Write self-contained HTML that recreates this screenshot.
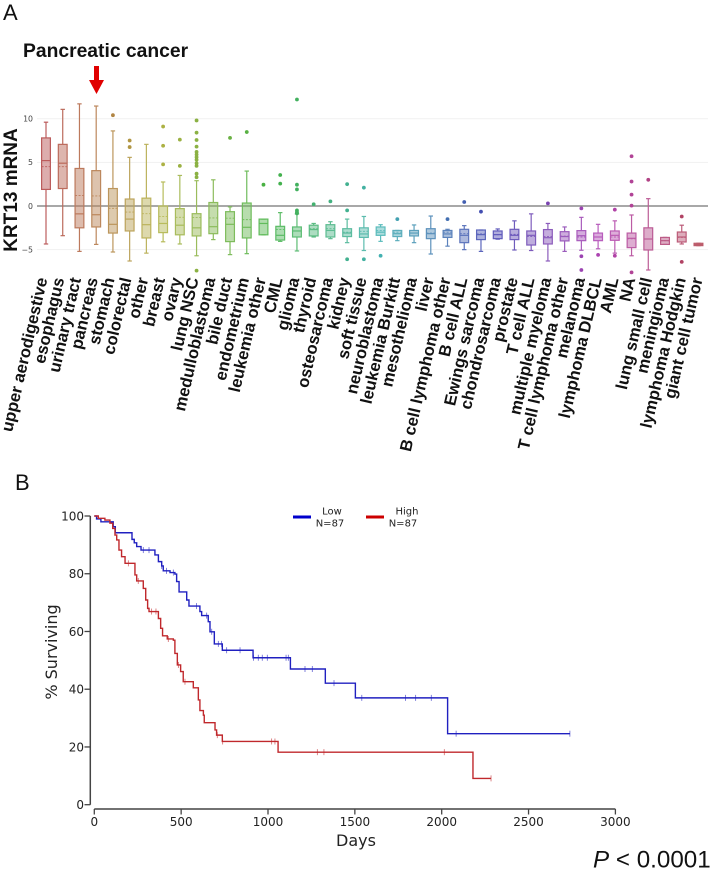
<!DOCTYPE html>
<html lang="en">
<head>
<meta charset="utf-8">
<title>KRT13 mRNA expression and survival</title>
<style>
html,body{margin:0;padding:0;background:#fff;width:711px;height:870px;overflow:hidden}
svg{display:block;filter:blur(0.3px)}
text{font-family:"Liberation Sans",sans-serif}
.dj{font-family:"DejaVu Sans",sans-serif}
</style>
</head>
<body>
<svg id="fig" xmlns="http://www.w3.org/2000/svg" width="711" height="870" viewBox="0 0 711 870">
  <text x="3" y="20" font-size="22" fill="#111">A</text>
  <text x="15" y="490" font-size="22" fill="#111">B</text>
  <text x="23" y="57" font-size="19.3" font-weight="bold" fill="#111">Pancreatic cancer</text>
  <polygon points="94,66 99,66 99,80 104,80 96.5,94 89,80 94,80" fill="#e00000"/>
  <text transform="translate(17,190) rotate(-90)" text-anchor="middle" font-size="19" font-weight="bold" fill="#111">KRT13 mRNA</text>
  <g id="boxGrid"></g>
  <g id="boxTicks"></g>
  <g id="boxes"></g>
  <g id="boxLabels"></g>

  <g id="kmAxes"></g>
  <text class="dj" transform="translate(57,652) rotate(-90)" text-anchor="middle" font-size="16" fill="#222">% Surviving</text>
  <text class="dj" x="356" y="846" text-anchor="middle" font-size="16" fill="#222">Days</text>
  <g id="kmLines"></g>

  <g>
    <line x1="293" x2="311" y1="517" y2="517" stroke="#0000cc" stroke-width="3"/>
    <text class="dj" x="332" y="514.5" text-anchor="middle" font-size="10" fill="#222">Low</text>
    <text class="dj" x="330" y="526.5" text-anchor="middle" font-size="10" fill="#222">N=87</text>
  </g>
  <g>
    <line x1="366" x2="384" y1="517" y2="517" stroke="#cc0000" stroke-width="3"/>
    <text class="dj" x="407" y="514.5" text-anchor="middle" font-size="10" fill="#222">High</text>
    <text class="dj" x="403" y="526.5" text-anchor="middle" font-size="10" fill="#222">N=87</text>
  </g>
  <text x="593" y="867.5" font-size="24.2" fill="#111"><tspan font-style="italic">P</tspan> &lt; 0.0001</text>
</svg>
<script>
const categories = ["upper aerodigestive","esophagus","urinary tract","pancreas","stomach","colorectal","other","breast","ovary","lung NSC","medulloblastoma","bile duct","endometrium","leukemia other","CML","glioma","thyroid","osteosarcoma","kidney","soft tissue","neuroblastoma","leukemia Burkitt","mesothelioma","liver","B cell lymphoma other","B cell ALL","Ewings sarcoma","chondrosarcoma","prostate","T cell ALL","multiple myeloma","T cell lymphoma other","melanoma","lymphoma DLBCL","AML","NA","lung small cell","meningioma","lymphoma Hodgkin","giant cell tumor"];
const whiskerHigh = [9.6,11.07,11.7,11.45,8.6,5.57,7.06,2.75,3.5,2.9,3.0,-0.1,4.0,-1.5,-0.76,-0.9,-2.0,-1.8,-1.5,-1.2,-2.14,-2.8,-2.17,-1.15,-2.67,-2.25,-2.75,-2.63,-1.7,-0.9,-2.0,-2.4,-1.3,-2.1,-1.7,-1.03,0.84,-3.6,-2.2,-4.27];
const q3Values = [7.8,7.06,4.3,4.05,2.0,0.8,0.9,0,-0.3,-0.88,0.4,-0.65,0.34,-1.5,-2.33,-2.4,-2.2,-2.14,-2.6,-2.5,-2.4,-2.8,-2.8,-2.6,-2.8,-2.67,-2.75,-2.86,-2.67,-2.86,-2.7,-2.94,-2.82,-3.1,-2.86,-3.1,-2.5,-3.6,-2.98,-4.27];
const medianValues = [5.2,4.9,-0.9,-1.0,-2.1,-1.5,-2.14,-2.0,-2.2,-2.5,-2.37,-2.1,-2.44,-2.0,-3.36,-2.86,-2.7,-2.8,-3.1,-3.2,-3.0,-3.17,-3.1,-3.17,-3.2,-3.36,-3.28,-3.28,-3.36,-3.36,-3.63,-3.5,-3.4,-3.55,-3.36,-3.7,-3.78,-3.97,-3.55,-4.4];
const meanValues = [4.5,4.5,1.2,1.15,-0.27,-0.7,-0.88,-1.2,-1.3,-1.33,-1.37,-1.4,-1.56,-2.0,-2.7,-2.86,-2.6,-2.6,-3.0,-2.9,-2.8,-3.0,-3.1,-3.1,-3.0,-3.17,-3.2,-3.28,-3.25,-3.5,-3.5,-3.45,-3.55,-3.55,-3.55,-3.75,-3.78,-3.97,-3.6,-4.4];
const q1Values = [1.9,2.0,-2.5,-2.4,-3.1,-2.86,-3.66,-3.05,-3.3,-3.43,-3.17,-4.08,-3.66,-3.3,-3.9,-3.55,-3.43,-3.55,-3.5,-3.6,-3.36,-3.5,-3.43,-3.74,-3.6,-4.2,-3.85,-3.74,-3.85,-4.47,-4.35,-4.0,-3.97,-3.97,-3.93,-4.77,-5.04,-4.4,-4.12,-4.54];
const whiskerLow = [-4.35,-3.4,-5.2,-4.4,-5.27,-6.3,-5.4,-4.1,-4.35,-5.7,-3.85,-5.57,-5.46,-3.3,-4.05,-5.15,-3.55,-3.74,-4.2,-5.1,-4.05,-3.97,-4.2,-5.5,-4.6,-5.0,-5.2,-3.8,-5.04,-5.1,-6.3,-5.2,-5.07,-4.9,-5.4,-5.7,-7.33,-4.4,-4.35,-4.54];
const outlierValues = [[],[],[],[],[10.4],[7.5,6.75],[],[9.1,6.9,4.77],[7.6,4.6],[9.8,8.4,7.56,6.8,6.2,5.9,5.6,5.3,4.9,4.6,3.7,3.3,-7.4],[],[7.8],[8.47],[2.44],[3.55,2.56],[12.2,2.44,1.9,-0.5,-0.7,-0.85],[0.2],[0.53],[2.5,-0.5,-6.1],[2.1,-6.1],[-5.7],[-1.5],[],[],[-1.5],[0.46],[-0.65],[],[],[],[0.3],[],[-0.27,-5.76,-7.33],[-5.6],[-0.42,-5.7],[5.7,2.8,1.3,0.04,-7.6],[3.0],[],[-1.2,-6.4],[]];
const boxTickValues = [10,5,0,-5];

const lowDays = [0,13,38,109,121,217,230,244,269,349,369,388,397,436,464,474,488,532,545,608,618,656,666,691,737,914,1129,1330,1503,2034,2738];
const lowSurvival = [100,99,98,96.3,94.2,91.9,90.7,89.4,88.2,86.5,84.2,82.7,81,80.4,79.9,77.3,73.7,70.9,68.8,66.9,65.5,63.4,59.9,55.7,53.5,50.9,47,42.1,37,24.6,24.6];
const lowCensorDays = [282,315,388,416,455,589,647,676,714,733,762,839,916,944,967,996,1104,1117,1213,1255,1380,1540,1792,1850,1940,2083,2738];
const highDays = [0,23,61,90,106,119,129,142,157,177,234,244,282,296,307,315,369,382,393,420,455,464,478,497,512,570,599,608,628,633,695,704,737,1058,2180,2284];
const highSurvival = [100,99.2,98.6,97.5,95.7,93.4,91.7,88.2,85.9,83.6,79.6,77.5,74.9,70.9,68,66.9,64.5,61.1,58.5,57.4,57,52.4,48.4,46.1,42.6,40.5,36.3,32.6,31,28.4,25.9,24.1,21.9,18.2,9.1,9.1];
const highCensorDays = [196,253,330,355,426,484,522,708,739,1021,1040,1284,1322,2015,2284];
const dayTicks = [0,500,1000,1500,2000,2500,3000];
const survivalTicks = [0,20,40,60,80,100];

const NS = "http://www.w3.org/2000/svg";
function add(parent, tag, attrs) {
  const el = document.createElementNS(NS, tag);
  for (const k in attrs) el.setAttribute(k, attrs[k]);
  parent.appendChild(el);
  return el;
}
const boxX = i => 46 + i * 16.73;
const boxY = v => 206 - v * 8.73;
const kmX = d => 94.3 + d * 0.1737;
const kmY = s => 804.7 - s * 2.887;

const gridG = document.getElementById("boxGrid");
const tickG = document.getElementById("boxTicks");
boxTickValues.forEach(v => {
  const ln = add(gridG, "line", {x1: 37, x2: 708, y1: boxY(v), y2: boxY(v), stroke: v === 0 ? "#8c8c8c" : "#f1f1f1", "stroke-width": v === 0 ? 1.4 : 1});
  
  
  const t = add(tickG, "text", {x: 33, y: boxY(v) + 2.8, "text-anchor": "end", "font-size": 7.8, fill: "#444", class: "dj"});
  t.textContent = v < 0 ? "\u2212" + (-v) : String(v);
  
  
});

const boxesG = document.getElementById("boxes");
const labelG = document.getElementById("boxLabels");
categories.forEach((name, i) => {
  const hue = i * 360 / categories.length;
  const color = "hsl(" + hue + ",42%,55%)";
  const dotColor = "hsl(" + hue + ",45%,48%)";
  const x = boxX(i), hw = 4.4, cap = 2.2;
  const g = add(boxesG, "g", {});
  
  
  const s = {stroke: color, "stroke-width": 1.2, fill: "none"};
  add(g, "line", Object.assign({x1: x, x2: x, y1: boxY(whiskerHigh[i]), y2: boxY(q3Values[i])}, s));
  add(g, "line", Object.assign({x1: x, x2: x, y1: boxY(q1Values[i]), y2: boxY(whiskerLow[i])}, s));
  add(g, "line", Object.assign({x1: x - cap, x2: x + cap, y1: boxY(whiskerHigh[i]), y2: boxY(whiskerHigh[i])}, s));
  add(g, "line", Object.assign({x1: x - cap, x2: x + cap, y1: boxY(whiskerLow[i]), y2: boxY(whiskerLow[i])}, s));
  add(g, "rect", {x: x - hw, width: 2 * hw, y: boxY(q3Values[i]), height: Math.max(0.5, boxY(q1Values[i]) - boxY(q3Values[i])), fill: color, "fill-opacity": 0.5, stroke: color, "stroke-width": 1.2});
  add(g, "line", Object.assign({x1: x - hw, x2: x + hw, y1: boxY(medianValues[i]), y2: boxY(medianValues[i])}, s));
  add(g, "line", Object.assign({x1: x - hw, x2: x + hw, y1: boxY(meanValues[i]), y2: boxY(meanValues[i]), "stroke-dasharray": "2 1.5"}, s, {"stroke-width": 0.9}));
  outlierValues[i].forEach(v => add(g, "circle", {cx: x, cy: boxY(v), r: 1.9, fill: dotColor}));

  const lx = 47.5 + i * 16.8;
  const t = add(labelG, "text", {transform: "translate(" + lx + ",279) rotate(-77)", "text-anchor": "end", "font-size": 16.6, "font-weight": "bold", fill: "#111"});
  t.textContent = name;
  
  
});

const axG = document.getElementById("kmAxes");
add(axG, "line", {x1: 90.3, x2: 90.3, y1: kmY(100), y2: kmY(0), stroke: "#444", "stroke-width": 1.5});
add(axG, "line", {x1: kmX(0), x2: kmX(3000), y1: 809, y2: 809, stroke: "#444", "stroke-width": 1.5});
survivalTicks.forEach(v => {
  add(axG, "line", {x1: 84.5, x2: 90.3, y1: kmY(v), y2: kmY(v), stroke: "#444", "stroke-width": 1.3});
  const t = add(axG, "text", {x: 84, y: kmY(v) + 4.4, "text-anchor": "end", "font-size": 12, fill: "#222", class: "dj"});
  t.textContent = v;
  
  
});
dayTicks.forEach(d => {
  add(axG, "line", {x1: kmX(d), x2: kmX(d), y1: 809, y2: 814.5, stroke: "#444", "stroke-width": 1.3});
  const t = add(axG, "text", {x: kmX(d), y: 826, "text-anchor": "middle", "font-size": 12, fill: "#222", class: "dj"});
  t.textContent = d;
  
  
});

function drawCurve(days, surv, censors, color, name) {
  const g = add(document.getElementById("kmLines"), "g", {});
  
  
  let d = "M" + kmX(days[0]) + " " + kmY(surv[0]);
  for (let i = 1; i < days.length; i++) {
    d += "H" + kmX(days[i]) + "V" + kmY(surv[i]);
  }
  add(g, "path", {d: d, fill: "none", stroke: color, "stroke-width": 1.4});
  censors.forEach(c => {
    let s = surv[0];
    for (let i = 0; i < days.length; i++) if (days[i] <= c) s = surv[i];
    add(g, "line", {x1: kmX(c), x2: kmX(c), y1: kmY(s) - 3, y2: kmY(s) + 3, stroke: color, "stroke-width": 0.8, "stroke-opacity": 0.7});
  });
}
drawCurve(lowDays, lowSurvival, lowCensorDays, "#2020c0", "low-expression-curve");
drawCurve(highDays, highSurvival, highCensorDays, "#c0282c", "high-expression-curve");
</script>
</body>
</html>
